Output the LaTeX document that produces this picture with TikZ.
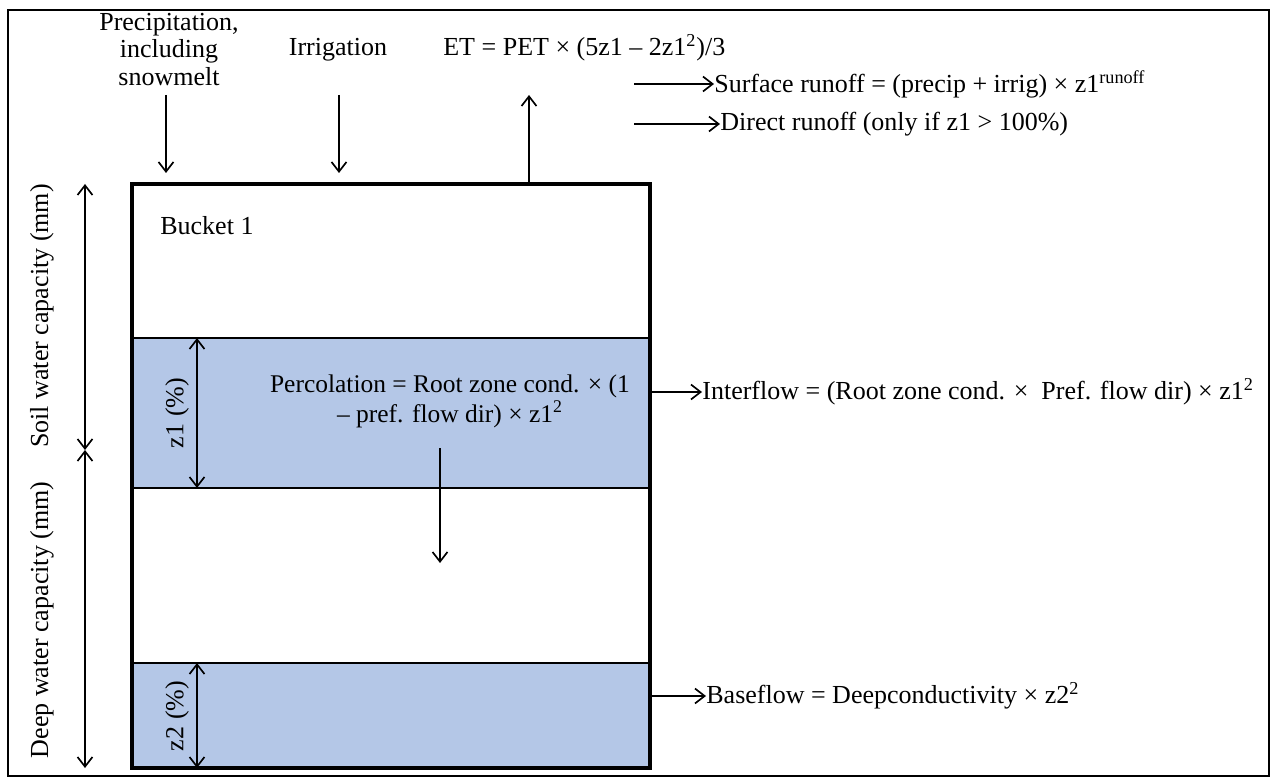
\documentclass[tikz,border=0pt]{standalone}
\usepackage{fontspec}
\setmainfont{Liberation Serif}
\usetikzlibrary{arrows.meta}
\tikzset{>={Straight Barb[length=5.5pt,width=8.5pt]}}
\definecolor{zonefill}{HTML}{B4C7E7}
\tikzset{
  lbl/.style={font=\fontsize{14.8}{14.2}\selectfont, inner sep=0pt},
  flow/.style={->, line width=0.95pt},
  dimline/.style={<->, line width=0.95pt},
  wall/.style={line width=2.3pt},
  divider/.style={line width=1.1pt}
}

\begin{document}
\begin{tikzpicture}[x=0.02cm, y=-0.02cm]
\useasboundingbox (0,0) rectangle (1277,780);
\draw[line width=1.3pt] (8,10) rectangle (1269,776);

% bucket and its two wet zones
\coordinate (bNW) at (132,184);
\coordinate (bSE) at (650,768);
\fill[zonefill] (132,338) rectangle (650,488);
\fill[zonefill] (132,663) rectangle (650,768);
\draw[divider] (132,338) -- (650,338);
\draw[divider] (132,488) -- (650,488);
\draw[divider] (132,663) -- (650,663);
\draw[wall] (bNW) rectangle (bSE);

% inputs and outputs at the top
\node[lbl, align=center, anchor=north, font=\fontsize{14.8}{15.6}\selectfont] (precip) at (169,13) {Precipitation,\\including\\snowmelt};
\node[lbl, anchor=base] (irrig) at (338,56) {Irrigation};
\node[lbl, anchor=base west] (et) at (443,56) {ET = PET × (5z1 – 2z1\textsuperscript{2})/3};
\coordinate (precipA) at (166,95);
\coordinate (precipB) at (166,173);
\coordinate (irrigA) at (339,95);
\coordinate (irrigB) at (339,173);
\coordinate (etA) at (529,184);
\coordinate (etB) at (529,95);
\draw[flow] (precipA) -- (precipB);
\draw[flow] (irrigA) -- (irrigB);
\draw[flow] (etA) -- (etB);

\node[lbl, anchor=west] (surf) at (714,84) {Surface runoff = (precip + irrig) × z1\textsuperscript{runoff}};
\node[lbl, anchor=west] (direct) at (720,124) {Direct runoff (only if z1 > 100\%)};
\coordinate (surfA) at (634,84);
\coordinate (directA) at (634,124);
\draw[flow] (surfA) -- (surf.west);
\draw[flow] (directA) -- (direct.west);

% inside the bucket
\node[lbl, anchor=west] (bucket) at (160,226) {Bucket 1};
\node[lbl, align=center, font=\fontsize{14.5}{17}\selectfont] (perc) at (450,401) {Percolation = Root zone cond. × (1\\– pref. flow dir) × z1\textsuperscript{2}};
\coordinate (percA) at (440,448);
\coordinate (percB) at (440,563);
\draw[flow] (percA) -- (percB);

\coordinate (z1top) at (197,338);
\coordinate (z1bot) at (197,488);
\coordinate (z2top) at (197,663);
\coordinate (z2bot) at (197,768);
\draw[dimline] (z1top) -- (z1bot);
\draw[dimline] (z2top) -- (z2bot);
\node[lbl, rotate=90] (z1lbl) at (177,413) {z1 (\%)};
\node[lbl, rotate=90] (z2lbl) at (177,716) {z2 (\%)};

% side outputs
\node[lbl, anchor=west] (inter) at (702,392) {Interflow = (Root zone cond. ×\ \ Pref. flow dir) × z1\textsuperscript{2}};
\node[lbl, anchor=west] (base) at (706,696) {Baseflow = Deepconductivity × z2\textsuperscript{2}};
\coordinate (interA) at (650,392);
\coordinate (baseA) at (650,696);
\draw[flow] (interA) -- (inter.west);
\draw[flow] (baseA) -- (base.west);

% capacities on the left
\coordinate (soilTop) at (85,184);
\coordinate (soilMid) at (85,450);
\coordinate (deepBot) at (85,768);
\draw[dimline] (soilTop) -- (soilMid);
\draw[dimline] (soilMid) -- (deepBot);
\node[lbl, rotate=90] (soil) at (42,316) {Soil water capacity (mm)};
\node[lbl, rotate=90] (deep) at (42,620) {Deep water capacity (mm)};
\end{tikzpicture}
\end{document}
